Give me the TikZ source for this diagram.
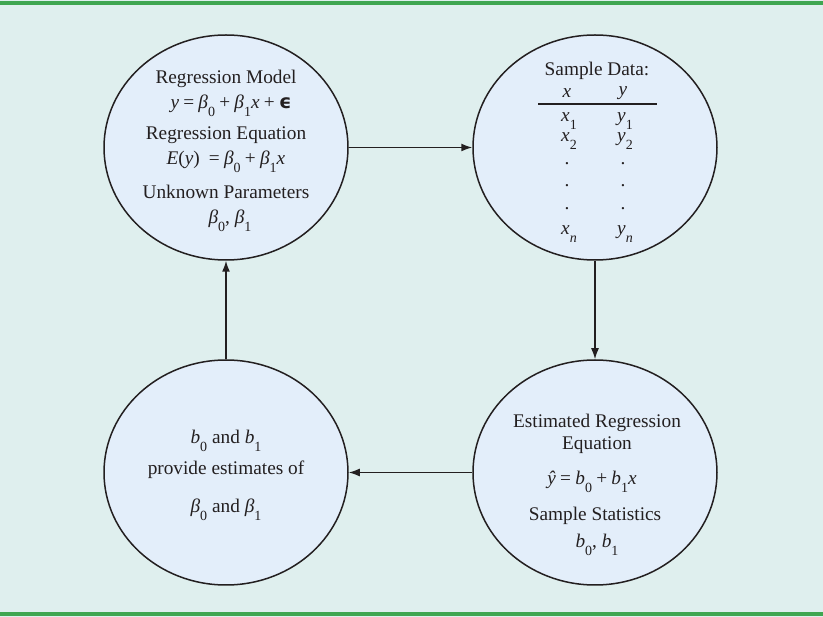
\documentclass[tikz,border=0pt]{standalone}
\usepackage{fontspec}
\setmainfont{Liberation Serif}
\newfontfamily\djsb{DejaVu Sans}
\usetikzlibrary{shapes.geometric,arrows.meta}
\definecolor{bgc}{HTML}{DFEFEE}
\definecolor{grn}{HTML}{3FA651}
\definecolor{cfill}{HTML}{E3EEFA}
\definecolor{ink}{HTML}{231F20}
\newcommand\sbs[1]{\raisebox{-0.42em}{\fontsize{14}{14}\selectfont #1}}
\newcommand\iv[1]{\textit{#1}}
\newcommand\op[1]{\hspace{0.22em}#1\hspace{0.22em}}
\tikzset{
  circ/.style={ellipse,draw=ink,fill=cfill,line width=1.5pt,minimum width=244pt,minimum height=225pt,inner sep=0pt},
  txt/.style={text=ink,font=\fontsize{19.3}{22}\selectfont,inner sep=0pt},
  arr/.style={draw=ink,line width=1.5pt,-{Latex[length=11pt,width=8pt]}},
  rule/.style={draw=ink,line width=1.4pt}
}
\begin{document}
\begin{tikzpicture}[x=1pt,y=-1pt]
\fill[bgc] (0,0) rectangle (823,617);
\useasboundingbox (0,0) rectangle (823,617);
\fill[grn] (0,1) rectangle (823,5.5);
\fill[grn] (0,612) rectangle (823,616.5);

\node[circ] (tl) at (226,147.5) {};
\node[circ] (tr) at (595,147.5) {};
\node[circ] (br) at (595,472.5) {};
\node[circ] (bl) at (226,472.5) {};

\draw[arr] (tl.east) -- (tr.west);
\draw[arr] (tr.south) -- (br.north);
\draw[arr] (br.west) -- (bl.east);
\draw[arr] (bl.north) -- (tl.south);

% top-left
\node[txt] (tl1) at (226,79) {Regression Model};
\node[txt] (tl2) at (231,106) {\iv{y}\op{=}\iv{β}\sbs{0}\op{+}\iv{β}\sbs{1}\iv{x}\op{+}{\djsb\bfseries ϵ}};
\node[txt] (tl3) at (226,135) {Regression Equation};
\node[txt] (tl4) at (226,162) {\iv{E}(\iv{y})\ \op{=}\iv{β}\sbs{0}\op{+}\iv{β}\sbs{1}\iv{x}};
\node[txt] (tl5) at (226,192) {Unknown Parameters};
\node[txt] (tl6) at (230,221) {\iv{β}\sbs{0}, \iv{β}\sbs{1}};

% top-right
\node[txt] (tr1) at (597,71) {Sample Data:};
\node[txt] (trx) at (567,93) {\iv{x}};
\node[txt] (try) at (623,93) {\iv{y}};
\coordinate (hl) at (538,104);
\coordinate (hr) at (657,104);
\draw[rule] (hl) -- (hr);
\node[txt] (x1) at (569,121) {\iv{x}\sbs{1}};
\node[txt] (y1) at (625,121) {\iv{y}\sbs{1}};
\node[txt] (x2) at (569,141) {\iv{x}\sbs{2}};
\node[txt] (y2) at (625,141) {\iv{y}\sbs{2}};
\node[txt] (d1) at (567,164) {.};
\node[txt] (d2) at (623,164) {.};
\node[txt] (d3) at (567,186) {.};
\node[txt] (d4) at (623,186) {.};
\node[txt] (d5) at (567,209) {.};
\node[txt] (d6) at (623,209) {.};
\node[txt] (xn) at (569,234) {\iv{x}\sbs{\iv{n}}};
\node[txt] (yn) at (625,234) {\iv{y}\sbs{\iv{n}}};

% bottom-right
\node[txt] (br1) at (597,423) {Estimated Regression};
\node[txt] (br2) at (597,445) {Equation};
\node[txt] (br3) at (592,482) {\iv{ŷ}\op{=}\iv{b}\sbs{0}\op{+}\iv{b}\sbs{1}\iv{x}};
\node[txt] (br4) at (595,516) {Sample Statistics};
\node[txt] (br5) at (597,545) {\iv{b}\sbs{0}, \iv{b}\sbs{1}};

% bottom-left
\node[txt] (bl1) at (226,441) {\iv{b}\sbs{0} and \iv{b}\sbs{1}};
\node[txt] (bl2) at (226,470) {provide estimates of};
\node[txt] (bl3) at (226,510) {\iv{β}\sbs{0} and \iv{β}\sbs{1}};
\end{tikzpicture}
\end{document}
